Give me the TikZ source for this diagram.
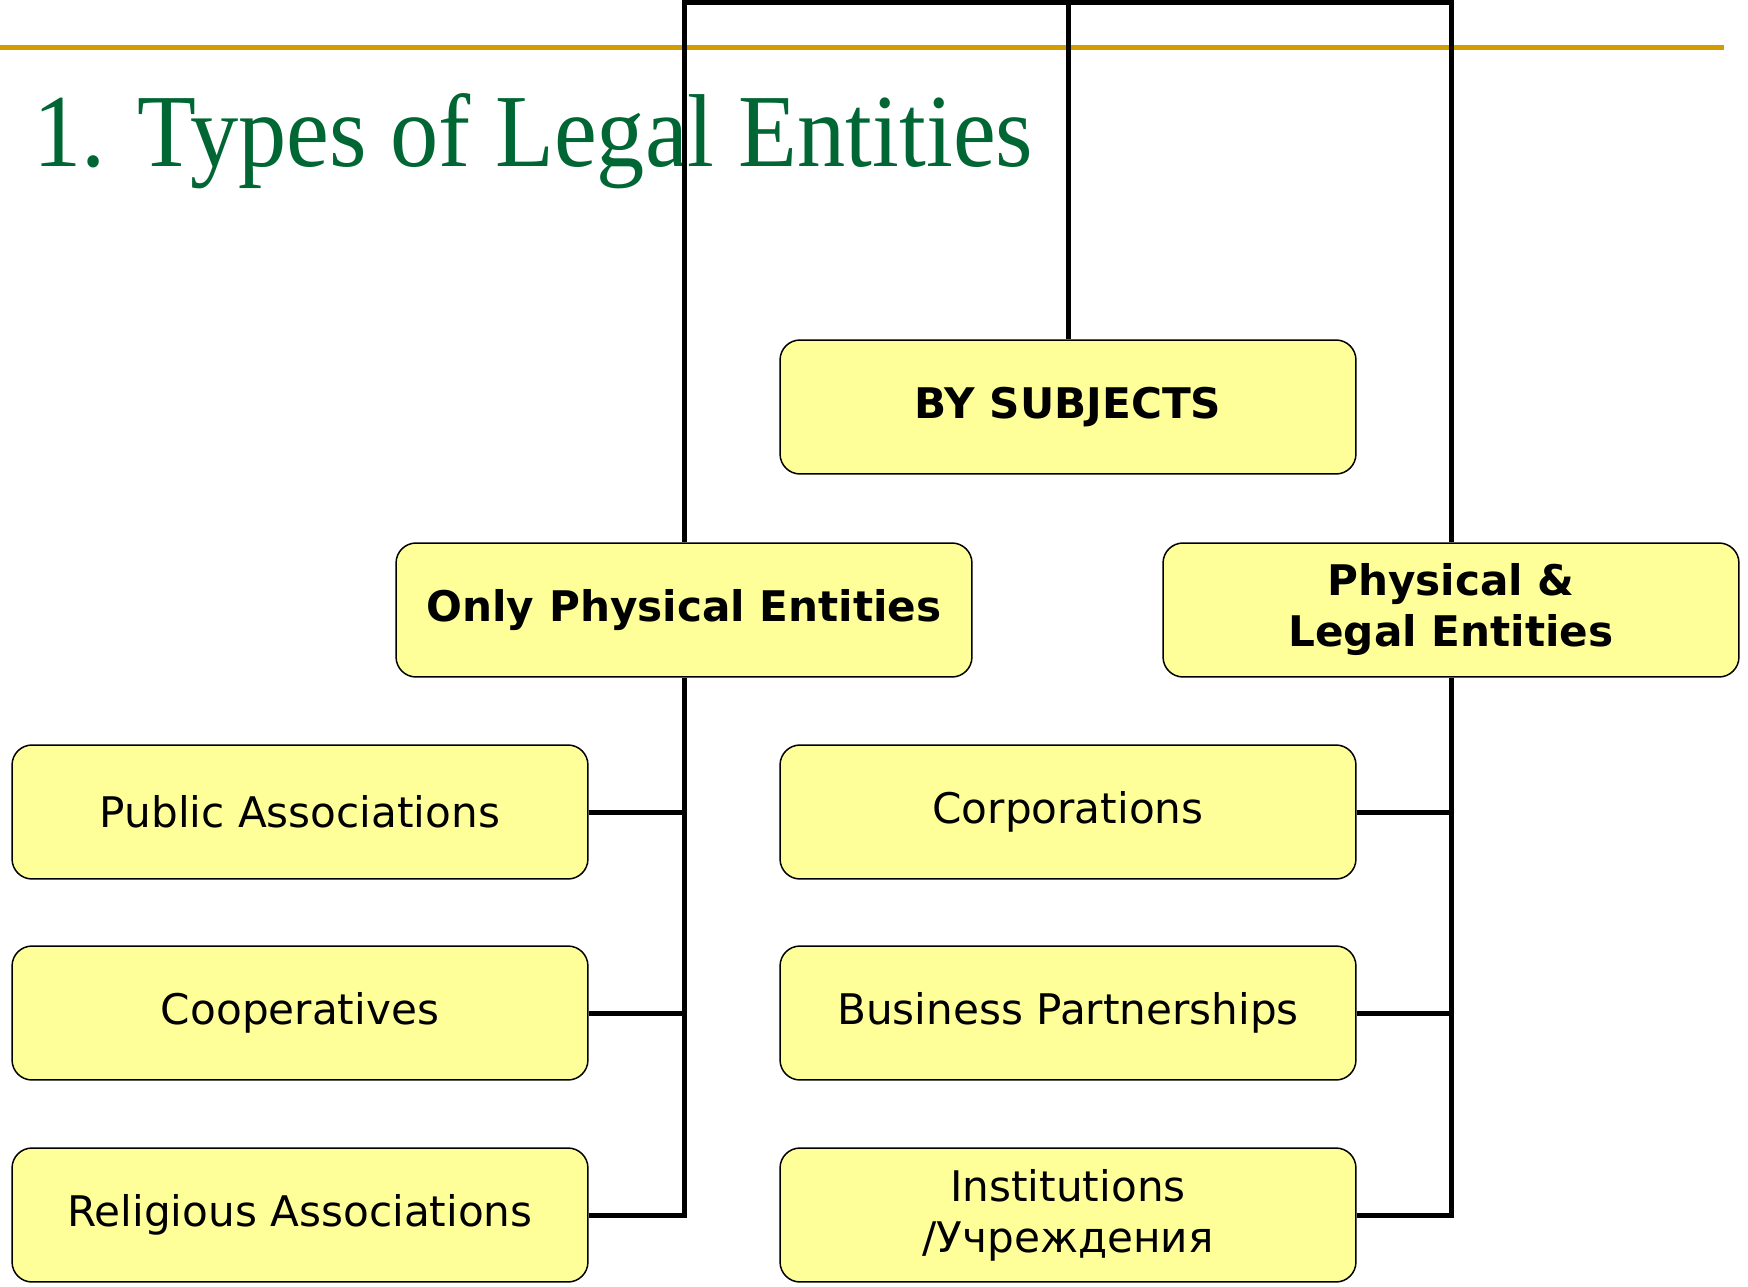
\documentclass[tikz,border=0pt]{standalone}
\usepackage{fontspec}
\setmainfont{DejaVu Sans}
\newfontfamily\titlefont[FakeStretch=0.93]{Liberation Serif}
\usetikzlibrary{positioning}
\definecolor{boxyellow}{RGB}{255,255,153}
\definecolor{titlegreen}{RGB}{0,102,51}
\definecolor{rulegold}{RGB}{208,158,0}

\begin{document}
\begin{tikzpicture}[x=0.02cm, y=-0.02cm,
	entity/.style={draw, line width=0.85pt, fill=boxyellow, rounded corners=0.4cm,
		minimum width=11.52cm, minimum height=2.68cm, inner sep=0pt, align=center,
		font=\fontsize{24}{29}\selectfont},
	head/.style={entity, font=\fontsize{24}{29}\selectfont\bfseries},
	link/.style={line width=0.1cm}]
	\useasboundingbox (0,0) rectangle (1748,1287);
	% Header
	\draw[rulegold, line width=0.1cm] (0,48) -- (1724,48);
	\node[anchor=base west, text=titlegreen, inner sep=0pt,
	font=\titlefont\fontsize{59}{60}\selectfont] (title) at (33,167) {1. Types of Legal Entities};
	% Top level
	\node[head] (subj) at (1068,407) {BY SUBJECTS};
	\node[head] (only) at (684,610) {Only Physical Entities};
	\node[head] (both) at (1451,610) {Physical \&\\Legal Entities};
	% Only physical entities
	\node[entity] (pub) at (300,812) {Public Associations};
	\node[entity] (coop) at (300,1013) {Cooperatives};
	\node[entity] (relig) at (300,1215) {Religious Associations};
	% Physical and legal entities
	\node[entity] (corp) at (1068,812) {Corporations};
	\node[entity] (part) at (1068,1013) {Business Partnerships};
	\node[entity] (inst) at (1068,1215) {Institutions\\/Учреждения};
	% Connectors
	\coordinate (top) at (1068,3);
	\draw[link] (subj.north) -- (top);
	\draw[link] (only.north) |- (top) -| (both.north);
	\draw[link] (only.south) |- (relig.east);
	\draw[link] (pub.east) -- (pub.east -| only.south);
	\draw[link] (coop.east) -- (coop.east -| only.south);
	\draw[link] (both.south) |- (inst.east);
	\draw[link] (corp.east) -- (corp.east -| both.south);
	\draw[link] (part.east) -- (part.east -| both.south);
\end{tikzpicture}
\end{document}
